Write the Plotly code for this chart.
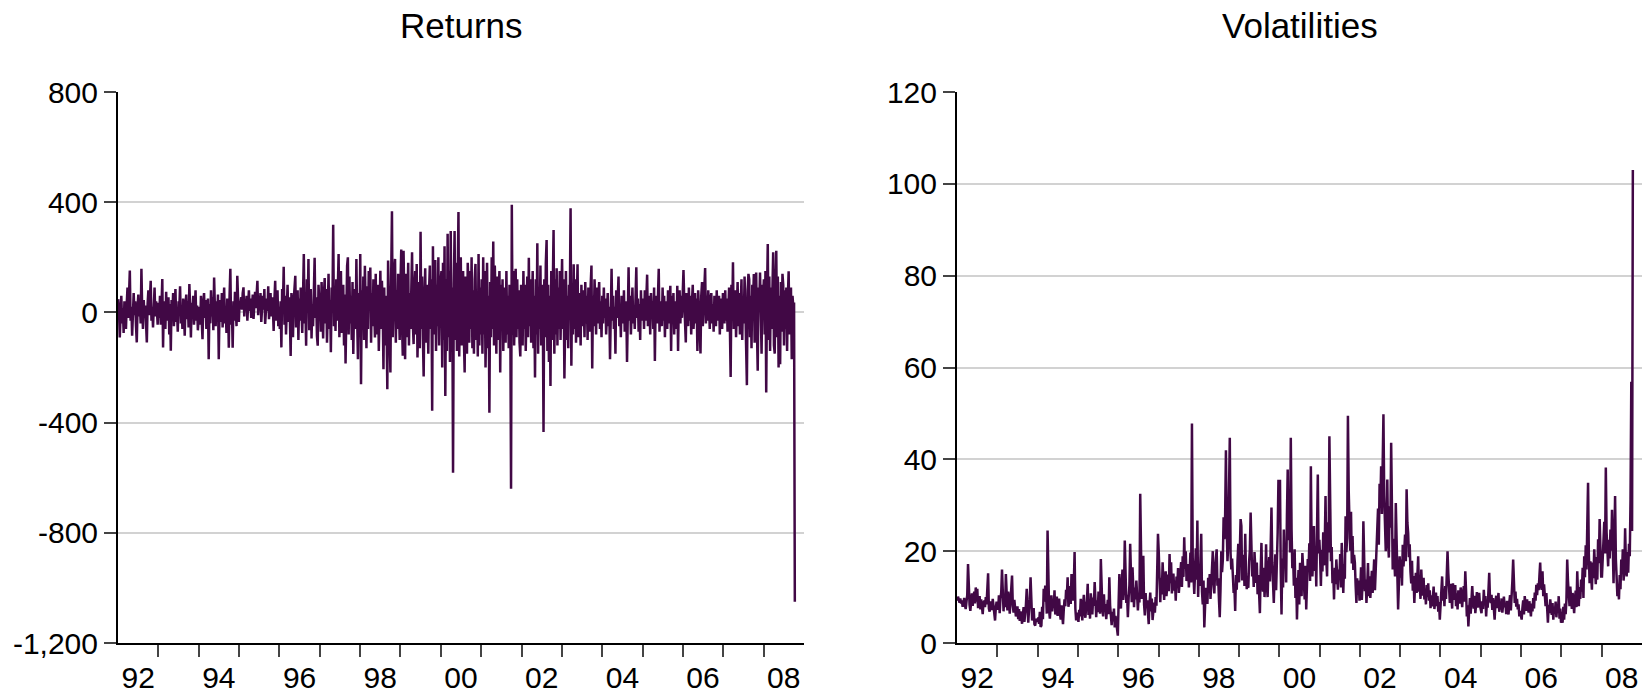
import pandas as pd
import plotly.graph_objects as go

# ---------------- data (weekly) ----------------
years = list(range(1992, 2009))

ret_1992 = [48, 10, -91, 25, 60, -40, 15, -75, 40, 5, -60, 30, 90, -20, 55, 152, -30, 20, -85, 35, 70, -10, 40, -50, -109, 20, 65, -15, 30, -40, 158, 10, -60, 45, -20, 25, -70, -109, 30, 80, -10, 50, 115, -30, 20, -55, 35, 90, -15, 40, 10, -45]
ret_1993 = [35, -20, 60, -45, 25, 121, -127, 40, 10, -60, 75, -30, 20, 55, -80, 30, -139, 45, -15, 70, -50, 20, 85, -35, 10, -70, 40, 15, 95, -40, 25, -60, 50, 5, -85, 30, 65, -25, 40, -55, 103, 20, -91, 35, -10, 60, -45, 15, 80, -30, 25, -65]
ret_1994 = [20, -45, 60, -30, -97, 35, 70, -20, 45, -60, 15, 50, -170, 30, -40, 80, -15, 55, -65, 127, 20, -50, 40, -25, 65, -170, 10, 45, -35, 70, -55, 25, 90, -40, 15, -75, 50, 30, -128, 60, 158, -45, 20, -128, 40, -30, 75, 10, -50, 133, 25, -35]
ret_1995 = [40, 30, 55, 10, 70, 91, -15, 45, 20, 60, -30, 35, 80, 5, 50, -20, 40, 65, -24, 30, 75, 15, 55, 115, -10, 45, 25, 70, -35, 40, 60, 10, 85, -42, 30, 50, 5, 95, -25, 40, 70, -15, 55, 20, -67, 45, 115, -30, 35, 80, -50, 20]
ret_1996 = [-60, 40, -127, 85, 20, 166, -45, 60, -80, 30, 100, -35, 55, -20, -158, 70, 15, -90, 45, 110, 133, -55, 25, 80, -100, 50, -30, 90, 10, -75, 60, 212, -40, 35, -121, 120, 20, 194, -65, 45, 85, -95, 30, -50, 70, 198, -20, 55, -85, -121, 100, 40]
ret_1997 = [50, -70, 110, 20, -95, 60, 125, -40, 85, -110, 30, 140, -60, 45, -145, 90, 10, 318, -50, 75, -67, 120, -30, 55, 212, -90, 40, 150, -75, 25, 100, -120, 65, -185, 20, 169, 200, -80, 130, -40, 60, -100, 110, -151, 35, 85, -60, 194, -20, -170, 70, -90]
ret_1998 = [212, -261, 80, -40, 130, -100, 169, 20, -130, 95, -60, 150, 40, 163, -110, 70, -50, 120, 10, -91, 140, -80, 55, 100, -140, 30, 151, -60, 115, 20, -206, 90, -120, 60, -30, -279, 188, 40, -150, -218, 130, 367, -90, 60, 150, 194, -110, 80, -60, 140, 30, -100]
ret_1999 = [100, 228, -40, -157, 224, 60, -170, 140, -90, 30, 180, -120, 70, -60, 120, 218, -40, -115, 90, 150, -80, 176, -164, 60, 110, -130, 293, -60, 130, -90, -233, 40, 160, -110, 100, 20, -150, 80, 170, -60, 120, -357, 240, -80, 60, 190, -140, 100, -50, 200, -120, 80]
ret_2000 = [150, -200, 180, -100, 240, -303, 120, -140, 285, -90, 150, -180, 295, -120, 90, -582, 100, 295, -100, 180, -140, 60, 364, -160, 100, 200, -120, 60, 150, -90, -218, 130, 40, -150, 180, 90, -110, 150, -60, 200, -130, 80, -150, 120, 176, -100, 70, -160, 212, -120, 90, -80]
ret_2001 = [120, -150, 200, -80, 150, -200, 90, 180, -130, 60, -364, 110, -90, 200, -60, 257, -120, 170, 40, -150, 130, -100, 80, 150, -218, 100, -60, 120, -140, 90, 30, -110, 150, -80, 60, -130, 100, 20, -640, 391, -80, 150, -120, 60, 158, -90, 120, -60, 80, -110, -160, 100]
ret_2002 = [80, -120, 150, -60, 100, -140, 60, 130, -90, 198, -50, 120, -110, 80, 150, -130, 60, -236, 120, -80, 251, -150, 90, -60, 170, -120, 100, 40, -434, 120, -90, 180, 263, -140, 100, -180, 60, -267, 150, -100, 80, 299, -150, 120, -80, 160, -120, 90, -60, 150, -100, 60]
ret_2003 = [194, -60, 120, -240, 80, 150, -100, 60, -130, 100, 40, 378, -194, 90, -80, 175, -60, 120, -110, 50, 175, -90, 70, 20, -120, 100, -50, 80, 30, -90, 110, -40, 60, -100, 90, 20, -70, 100, 170, -204, 60, -50, 120, 30, -80, 90, -40, 60, 110, -60, 40, -90]
ret_2004 = [60, -40, 90, -20, 50, -80, 30, 70, -50, 20, -170, 40, 158, -30, 60, -60, 20, -150, 80, -20, 40, 130, -50, 30, -90, 60, 10, -40, 80, -70, 40, 20, -180, 50, 164, -30, 60, -80, 40, 90, -40, 20, -60, 70, 164, -20, 50, -70, 30, -100, 80, -30]
ret_2005 = [50, -60, 80, -30, 40, 137, -50, 60, 20, -80, 70, -20, 40, -60, 90, -176, 30, 60, -40, 80, 158, -70, 40, 10, -50, 90, -30, 60, -90, 40, 20, -60, 80, -40, 50, 97, -140, 60, -30, 70, -80, 40, 20, -60, 97, -140, 50, 80, -40, 60, -20, 40]
ret_2006 = [154, 40, -60, -109, 70, 20, -50, 90, -30, 60, -80, 40, 100, -60, 30, 70, -40, 50, -140, 80, 20, -70, -149, 60, 110, -50, 30, 90, 161, -40, 60, -30, 80, 20, -60, 50, 70, -40, 30, -70, 60, 40, -50, 80, -30, 20, 60, -80, 50, 30, -60, 70]
ret_2007 = [60, -40, 80, -30, 50, -70, 40, 90, -50, -234, 100, -20, 182, -60, 40, 80, -90, 30, 110, -50, 70, -80, 40, 120, -100, 60, -40, 130, 20, -120, -264, 80, 140, 120, -90, 60, -130, 100, 40, 139, -110, 80, 145, -60, -212, 90, 20, 145, -80, -150, 100, 60]
ret_2008 = [120, -80, 150, -291, 60, 248, -100, 130, -140, 90, -60, 150, 218, -120, -150, 100, 224, -90, 130, -200, 60, -188, 110, -70, 140, 100, -120, 80, -60, 90, -140, 60, 149, -80, 50, 90, -170, 60, 20, 36, -1050]

vol_1992 = [9.2, 10.1, 9.5, 8.8, 9.7, 8.6, 9.3, 7.9, 8.5, 9.8, 8.2, 7.4, 9.0, 10.5, 17.2, 9.6, 8.3, 7.0, 9.4, 10.8, 8.1, 9.9, 11.2, 8.6, 12.1, 9.0, 11.8, 7.6, 8.9, 10.2, 7.3, 9.5, 8.0, 6.3, 8.7, 9.2, 7.8, 10.0, 8.4, 11.5, 15.2, 7.5, 6.8, 9.1, 8.0, 7.2, 9.6, 8.3, 6.1, 4.9, 7.7, 9.0]
vol_1993 = [8.5, 7.2, 10.4, 6.5, 9.8, 11.0, 16.0, 8.2, 6.9, 10.5, 7.8, 15.0, 9.3, 7.1, 11.2, 9.6, 6.4, 8.8, 12.0, 14.7, 8.1, 6.6, 9.4, 7.5, 5.8, 6.3, 8.0, 5.2, 7.4, 4.8, 6.9, 5.5, 4.2, 6.1, 7.8, 4.6, 5.9, 8.3, 11.8, 6.0, 4.4, 7.2, 9.5, 14.3, 6.5, 4.9, 5.7, 7.6, 4.1, 3.8, 5.3, 4.6]
vol_1994 = [5.5, 4.2, 6.8, 3.5, 3.8, 7.9, 5.2, 11.8, 9.0, 12.5, 11.0, 6.4, 24.5, 10.2, 7.1, 5.3, 8.6, 10.4, 6.9, 9.3, 7.6, 11.5, 6.2, 8.8, 10.1, 5.9, 7.4, 9.7, 6.5, 5.1, 8.2, 6.0, 4.1, 7.3, 9.5, 8.0, 11.6, 10.2, 14.3, 7.9, 9.1, 12.4, 8.5, 15.0, 10.6, 9.2, 12.8, 19.8, 7.5, 4.9, 6.6, 5.2]
vol_1995 = [4.6, 7.2, 5.8, 9.6, 6.3, 4.9, 8.4, 10.5, 6.8, 5.5, 7.9, 9.2, 12.9, 6.1, 8.7, 5.3, 10.8, 7.4, 6.2, 9.9, 8.1, 13.3, 7.0, 5.6, 9.3, 6.7, 11.2, 8.0, 6.4, 18.3, 9.1, 7.3, 5.8, 10.6, 6.9, 8.5, 5.2, 7.8, 9.4, 6.3, 14.3, 8.2, 5.5, 3.9, 6.8, 4.7, 7.5, 3.4, 5.9, 4.5, 3.2, 1.6]
vol_1996 = [8.6, 15.0, 10.2, 7.5, 12.3, 16.0, 9.4, 11.8, 22.3, 14.1, 8.7, 10.5, 5.6, 9.8, 12.6, 21.6, 11.3, 8.9, 16.5, 10.4, 7.8, 12.1, 9.5, 13.6, 8.2, 7.1, 10.3, 8.8, 32.5, 14.2, 9.6, 11.4, 19.0, 8.4, 6.0, 10.9, 7.6, 9.3, 5.8, 4.1, 8.5, 11.0, 6.9, 9.7, 5.0, 7.4, 8.8, 6.6, 10.0, 8.1, 21.6, 23.8]
vol_1997 = [19.8, 12.5, 8.9, 14.2, 10.6, 17.6, 11.9, 9.4, 13.8, 15.6, 10.2, 12.7, 14.9, 11.3, 19.4, 13.0, 17.6, 10.8, 12.4, 15.1, 11.4, 13.6, 9.2, 14.5, 12.1, 16.3, 10.9, 13.7, 15.8, 17.6, 12.2, 18.9, 14.4, 23.0, 16.1, 20.0, 13.5, 14.3, 17.2, 12.1, 15.5, 19.7, 13.2, 47.8, 18.5, 12.9, 10.7, 15.3, 20.6, 13.8, 26.7, 10.0]
vol_1998 = [16.2, 12.4, 18.6, 23.8, 11.2, 8.4, 13.6, 3.4, 7.9, 12.0, 10.5, 8.5, 14.2, 11.3, 15.0, 9.6, 12.7, 17.5, 20.0, 13.4, 10.8, 16.2, 19.4, 20.4, 12.5, 14.1, 9.3, 5.6, 11.8, 20.0, 15.4, 18.2, 27.4, 22.6, 28.0, 42.0, 25.3, 17.8, 21.5, 30.2, 44.7, 19.6, 16.0, 18.4, 13.6, 10.9, 12.2, 7.0, 14.8, 11.6, 17.8, 21.6]
vol_1999 = [13.2, 18.5, 27.0, 25.5, 13.6, 16.8, 19.2, 12.4, 23.8, 15.1, 11.7, 14.3, 12.0, 17.6, 20.3, 28.4, 20.5, 14.5, 16.9, 12.2, 19.8, 15.4, 13.1, 17.5, 10.6, 14.8, 12.0, 6.5, 15.7, 21.8, 13.3, 11.2, 16.4, 10.0, 14.1, 21.5, 12.6, 10.0, 15.9, 18.7, 13.4, 22.5, 29.5, 17.5, 12.8, 8.7, 14.6, 19.3, 11.5, 16.2, 24.0, 35.3]
vol_2000 = [35.3, 15.8, 6.2, 18.4, 12.1, 24.7, 16.5, 20.8, 13.2, 27.6, 37.8, 22.4, 31.5, 19.7, 44.7, 24.7, 16.3, 18.9, 12.5, 20.4, 9.8, 14.2, 5.1, 11.6, 15.9, 8.4, 17.5, 13.0, 10.2, 19.6, 14.4, 13.0, 9.5, 16.8, 7.3, 12.9, 18.3, 16.0, 21.7, 13.5, 38.5, 20.2, 14.5, 18.9, 25.5, 15.7, 20.6, 12.3, 28.4, 36.7, 19.5, 22.5]
vol_2001 = [18.6, 12.4, 20.3, 15.6, 24.1, 16.9, 21.5, 32.0, 18.2, 14.5, 26.3, 19.7, 45.0, 24.7, 17.8, 20.9, 13.0, 15.5, 9.5, 16.4, 12.8, 18.2, 14.7, 11.6, 16.0, 13.9, 19.4, 12.1, 21.8, 15.3, 10.9, 17.2, 14.0, 27.6, 19.8, 22.9, 49.5, 33.2, 24.7, 20.1, 28.6, 17.3, 23.3, 15.9, 19.2, 17.5, 12.4, 8.7, 14.1, 10.5, 13.6, 9.2]
vol_2002 = [11.8, 16.5, 9.4, 13.2, 26.5, 15.1, 11.3, 13.8, 8.7, 12.6, 17.4, 10.2, 14.5, 9.8, 12.3, 15.7, 10.9, 13.4, 18.2, 11.5, 16.8, 20.5, 27.6, 29.3, 21.4, 34.7, 30.1, 38.5, 28.1, 36.2, 49.8, 32.0, 27.4, 20.0, 24.8, 35.6, 22.3, 18.6, 29.8, 25.1, 43.6, 19.4, 16.0, 22.7, 18.3, 14.5, 30.5, 21.2, 16.7, 7.3, 12.8, 18.9]
vol_2003 = [14.2, 18.2, 12.5, 21.4, 16.7, 19.3, 23.6, 17.8, 33.5, 26.2, 24.0, 18.7, 21.5, 15.6, 13.0, 17.9, 11.4, 14.6, 8.7, 12.8, 15.3, 10.9, 13.7, 18.9, 11.2, 12.4, 9.6, 16.0, 12.1, 10.3, 14.2, 9.5, 11.8, 8.4, 12.6, 10.1, 13.0, 9.2, 11.5, 7.6, 10.4, 8.0, 9.8, 12.3, 7.4, 9.5, 11.0, 8.0, 10.2, 6.8, 8.9, 5.1]
vol_2004 = [7.8, 10.6, 14.5, 9.2, 11.8, 8.0, 12.4, 9.6, 13.5, 20.0, 15.2, 11.3, 8.7, 12.9, 10.1, 7.5, 13.0, 11.2, 9.4, 12.6, 8.0, 10.8, 7.3, 11.5, 10.2, 8.6, 12.1, 9.3, 7.8, 10.7, 12.4, 9.0, 15.6, 11.3, 5.8, 8.2, 3.6, 7.1, 9.8, 6.4, 8.9, 12.4, 9.2, 7.5, 10.3, 6.5, 8.4, 11.1, 7.7, 9.5, 10.9, 8.2]
vol_2005 = [6.5, 9.1, 7.4, 11.6, 8.3, 10.2, 5.8, 9.0, 7.7, 11.4, 15.3, 9.6, 8.7, 10.5, 7.2, 9.8, 6.4, 5.1, 8.5, 10.3, 7.6, 9.4, 10.9, 6.8, 8.1, 7.3, 9.7, 6.6, 8.9, 10.1, 7.8, 8.7, 6.3, 9.2, 7.5, 6.2, 8.8, 10.4, 7.1, 9.3, 13.6, 18.2, 10.5, 8.7, 11.2, 7.9, 9.6, 7.3, 8.4, 5.8, 7.0, 6.1]
vol_2006 = [5.1, 7.6, 9.3, 6.2, 10.2, 8.4, 7.0, 9.5, 8.0, 6.6, 9.1, 7.3, 5.8, 8.6, 6.9, 9.8, 7.5, 11.0, 9.2, 12.7, 10.4, 13.0, 11.5, 14.6, 17.5, 12.3, 11.6, 15.6, 10.2, 12.8, 9.6, 8.0, 10.9, 7.2, 4.4, 8.3, 6.5, 9.5, 7.4, 6.1, 8.7, 5.1, 7.9, 6.4, 9.0, 5.6, 7.8, 6.9, 10.2, 5.3, 7.5, 4.4]
vol_2007 = [6.8, 4.4, 7.9, 5.1, 8.6, 6.3, 9.4, 18.2, 13.5, 10.7, 8.0, 12.3, 9.1, 7.4, 10.9, 8.2, 6.5, 9.7, 11.4, 7.8, 15.6, 10.5, 8.0, 12.2, 9.6, 13.8, 11.2, 16.4, 9.8, 18.9, 14.3, 21.3, 16.0, 25.8, 34.9, 19.5, 13.0, 17.8, 15.2, 11.6, 17.5, 14.1, 20.4, 16.1, 12.8, 18.7, 13.8, 22.6, 17.4, 27.0, 19.2, 14.5]
vol_2008 = [14.5, 18.6, 21.8, 26.4, 19.5, 38.2, 24.1, 20.3, 16.7, 22.5, 18.4, 24.7, 20.1, 29.0, 17.2, 13.0, 21.6, 32.0, 18.3, 14.1, 10.2, 12.6, 9.5, 14.8, 11.7, 18.2, 15.3, 20.4, 13.6, 16.0, 25.0, 17.4, 14.5, 19.8, 15.3, 21.6, 18.9, 31.3, 56.9, 24.4, 103.0]

returns_by_year = [ret_1992, ret_1993, ret_1994, ret_1995, ret_1996, ret_1997, ret_1998, ret_1999,
                   ret_2000, ret_2001, ret_2002, ret_2003, ret_2004, ret_2005, ret_2006, ret_2007, ret_2008]
vol_by_year = [vol_1992, vol_1993, vol_1994, vol_1995, vol_1996, vol_1997, vol_1998, vol_1999,
               vol_2000, vol_2001, vol_2002, vol_2003, vol_2004, vol_2005, vol_2006, vol_2007, vol_2008]

ret_ticks = [-1200, -800, -400, 0, 400, 800]
ret_ticktext = ["-1,200", "-800", "-400", "0", "400", "800"]
ret_grid = [-800, -400, 0, 400]
vol_ticks = [0, 20, 40, 60, 80, 100, 120]
vol_grid = [20, 40, 60, 80, 100]
label_years = [1992, 1994, 1996, 1998, 2000, 2002, 2004, 2006, 2008]
tick_years = list(range(1993, 2009))


def weekly(series_by_year):
    xs, ys = [], []
    for y, vals in zip(years, series_by_year):
        xs += list(pd.date_range(f"{y}-01-01", periods=len(vals), freq="W-FRI"))
        ys += vals
    return xs, ys


ret_x, ret_y = weekly(returns_by_year)
vol_x, vol_y = weekly(vol_by_year)

# ---------------- figure ----------------
LINE = "#410845"
FONT = "Liberation Sans, Arial, Helvetica, sans-serif"
GRID = "#d2d2d2"

fig = go.Figure()
fig.add_trace(go.Scatter(x=ret_x, y=ret_y, mode="lines", line=dict(color=LINE, width=2.5),
                         xaxis="x", yaxis="y", showlegend=False, hoverinfo="skip"))
fig.add_trace(go.Scatter(x=vol_x, y=vol_y, mode="lines", line=dict(color=LINE, width=2.5),
                         xaxis="x2", yaxis="y2", showlegend=False, hoverinfo="skip"))

major_x = [pd.Timestamp(f"{y}-07-02") for y in label_years]
major_txt = [f"{y % 100:02d}" for y in label_years]
minor_x = [pd.Timestamp(f"{y}-01-01") for y in tick_years]


def xaxis_cfg(domain, anchor):
    return dict(domain=domain, anchor=anchor, type="date",
                range=["1992-01-01", "2009-01-01"],
                tickmode="array", tickvals=major_x, ticktext=major_txt,
                ticks="outside", ticklen=7, tickcolor="rgba(0,0,0,0)",
                showgrid=False, zeroline=False,
                showline=True, linecolor="black", linewidth=2,
                tickfont=dict(size=30, color="black", family=FONT),
                minor=dict(tickmode="array", tickvals=minor_x, ticks="outside",
                           ticklen=12, tickwidth=1.5, tickcolor="#444", showgrid=False),
                automargin=False, fixedrange=True)


def yaxis_cfg(domain, anchor, rng, tv, tt, grid):
    return dict(domain=domain, anchor=anchor, range=rng,
                tickmode="array", tickvals=tv, ticktext=tt,
                ticks="outside", ticklen=12, tickwidth=1.5, tickcolor="#444",
                showgrid=False, zeroline=False,
                showline=True, linecolor="black", linewidth=2,
                tickfont=dict(size=30, color="black", family=FONT),
                minor=dict(tickmode="array", tickvals=grid, ticks="",
                           showgrid=True, gridcolor=GRID, gridwidth=1.5),
                automargin=False, fixedrange=True)


ydom = [51 / 694, 602 / 694]
fig.update_layout(
    width=1650, height=694,
    margin=dict(l=0, r=0, t=0, b=0),
    paper_bgcolor="white", plot_bgcolor="white",
    font=dict(family=FONT, color="black"),
    xaxis=xaxis_cfg([118 / 1650, 804 / 1650], "y"),
    yaxis=yaxis_cfg(ydom, "x", [-1200, 800], ret_ticks, ret_ticktext, ret_grid),
    xaxis2=xaxis_cfg([957 / 1650, 1642 / 1650], "y2"),
    yaxis2=yaxis_cfg(ydom, "x2", [0, 120], vol_ticks, [str(v) for v in vol_ticks], vol_grid),
    annotations=[
        dict(text="Returns", xref="paper", yref="paper", x=(118 + 804) / 2 / 1650,
             y=(694 - 26) / 694, xanchor="center", yanchor="middle", showarrow=False,
             font=dict(size=35, color="black", family=FONT)),
        dict(text="Volatilities", xref="paper", yref="paper", x=(957 + 1642) / 2 / 1650,
             y=(694 - 26) / 694, xanchor="center", yanchor="middle", showarrow=False,
             font=dict(size=35, color="black", family=FONT)),
    ],
)

fig.write_html(
    "out.html",
    config={"displayModeBar": False},
    post_script="document.body.style.margin='0';document.body.style.overflow='hidden';",
)
